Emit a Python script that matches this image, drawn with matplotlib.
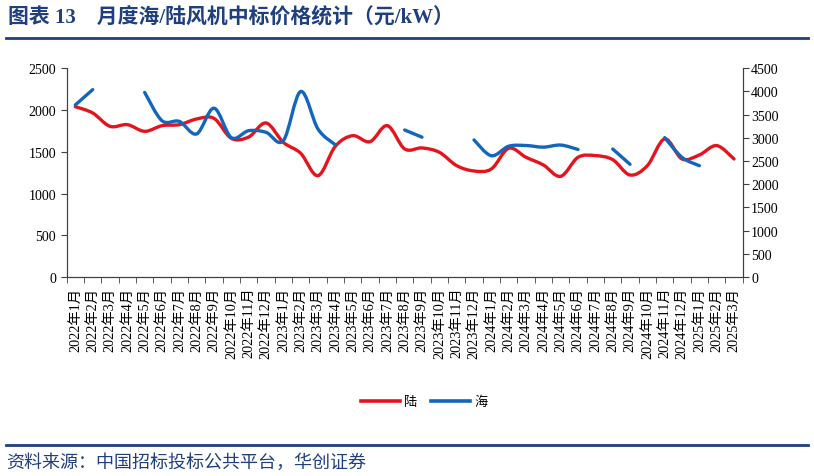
import numpy as np
import matplotlib.pyplot as plt
from matplotlib.path import Path
from matplotlib.patches import PathPatch
from matplotlib.lines import Line2D

plt.rcParams['font.family'] = ['Liberation Serif', 'Noto Sans CJK SC']

years = [2022] * 12 + [2023] * 12 + [2024] * 12 + [2025] * 3
months = list(range(1, 13)) * 3 + [1, 2, 3]
labels = [f'{y}年{m}月' for y, m in zip(years, months)]

# 陆 (left axis)
land = [2040, 1965, 1805, 1825, 1745, 1813, 1825, 1893, 1900, 1661,
        1677, 1845, 1613, 1482, 1214, 1566, 1693, 1621, 1813, 1534,
        1546, 1494, 1334, 1270, 1294, 1542, 1434, 1342, 1206, 1434,
        1454, 1406, 1222, 1334, 1654, 1414, 1462, 1574, 1414]
nan = np.nan
# 海 (right axis)
sea = [3710, 4040, nan, nan, 3980, 3370, 3355, 3085, 3640, 3005,
       3155, 3120, 2940, 4000, 3190, 2850, nan, nan, nan, 3170,
       3015, nan, nan, 2955, 2615, 2820, 2835, 2800, 2845, 2750,
       nan, 2760, 2430, nan, 3005, 2580, 2400, nan, nan]

RED = '#E5141C'
BLUE = '#1366BD'
NAVY = '#1F3F7F'


def smooth_path(x, y):
    # bezier curve through the points (like excel's smoothed line)
    verts = [(x[0], y[0])]
    codes = [Path.MOVETO]
    n = len(x)
    for i in range(n - 1):
        xa, ya = (x[i - 1], y[i - 1]) if i > 0 else (x[i], y[i])
        xb, yb = (x[i + 2], y[i + 2]) if i + 2 < n else (x[i + 1], y[i + 1])
        c1 = (x[i] + (x[i + 1] - xa) / 6, y[i] + (y[i + 1] - ya) / 6)
        c2 = (x[i + 1] - (xb - x[i]) / 6, y[i + 1] - (yb - y[i]) / 6)
        verts += [c1, c2, (x[i + 1], y[i + 1])]
        codes += [Path.CURVE4] * 3
    return Path(verts, codes)


def draw_smooth(ax, vals, color):
    vals = np.array(vals, dtype=float)
    idx = np.arange(len(vals))
    ok = ~np.isnan(vals)
    runs = np.split(idx[ok], np.where(np.diff(idx[ok]) > 1)[0] + 1)
    for r in runs:
        if len(r) < 2:
            continue
        p = smooth_path(list(r.astype(float)), list(vals[r]))
        ax.add_patch(PathPatch(p, fill=False, edgecolor=color, lw=2.4,
                               capstyle='round', joinstyle='round'))


fig = plt.figure(figsize=(8.14, 4.77), dpi=100)
ax1 = fig.add_axes([0.0819, 0.4172, 0.8305, 0.4375])
ax2 = ax1.twinx()

draw_smooth(ax1, land, RED)
draw_smooth(ax2, sea, BLUE)

ax1.set_xlim(-0.5, len(labels) - 0.5)
ax1.set_ylim(0, 2500)
ax2.set_ylim(0, 4500)
ax1.set_yticks(np.arange(0, 2501, 500))
ax2.set_yticks(np.arange(0, 4501, 500))

ax1.set_xticks(np.arange(len(labels)))
ax1.set_xticklabels(labels, rotation=90, fontsize=10.3)
ax1.set_xticks(np.arange(-0.5, len(labels), 1), minor=True)
ax1.tick_params(axis='x', which='major', length=0, pad=7)
ax1.tick_params(axis='x', which='minor', length=4, color='#404040')
ax1.tick_params(axis='y', length=4, labelsize=10, color='#404040')
ax2.tick_params(axis='y', length=4, labelsize=10, color='#404040', pad=2)

for ax in (ax1, ax2):
    ax.spines['top'].set_visible(False)
    for s in ('left', 'right', 'bottom'):
        ax.spines[s].set_color('#404040')
        ax.spines[s].set_linewidth(0.8)

handles = [Line2D([], [], color=RED, lw=2.6), Line2D([], [], color=BLUE, lw=2.6)]
fig.legend(handles, ['陆', '海'], loc='center', bbox_to_anchor=(424 / 814, 1 - 403 / 477),
           ncol=2, frameon=False, fontsize=9.5, handlelength=3.0, handletextpad=0.3,
           columnspacing=1.0)

# title and footer
fig.text(8 / 814, 1 - 18 / 477, '图表 13　月度海/陆风机中标价格统计（元/kW）',
         fontsize=15, fontweight='bold', color=NAVY, va='center', ha='left')
fig.add_artist(Line2D([6 / 814, 808 / 814], [1 - 38.5 / 477] * 2, color=NAVY, lw=2))
fig.add_artist(Line2D([6 / 814, 808 / 814], [1 - 446 / 477] * 2, color=NAVY, lw=2))
fig.text(6 / 814, 1 - 463 / 477, '资料来源：中国招标投标公共平台，华创证券',
         fontsize=13, style='italic', color=NAVY, va='center', ha='left')

fig.savefig('out.png', dpi=100)
